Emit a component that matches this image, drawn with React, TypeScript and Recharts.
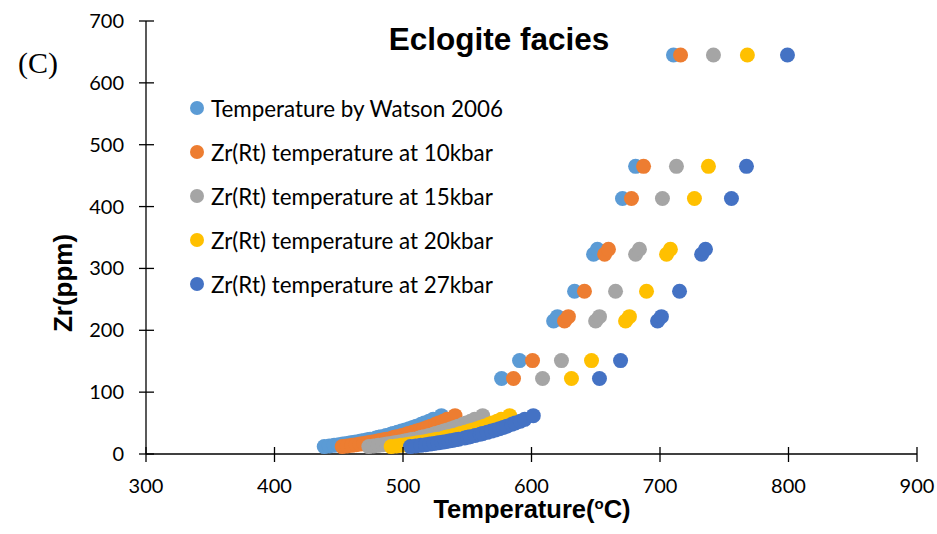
import React from 'react';
import { ScatterChart, Scatter, XAxis, YAxis, Legend } from 'recharts';

// Zr content (ppm) of each rutile grain
const zrPpm = [
  12, 13, 14, 15, 16, 17, 18, 19, 20, 21, 22, 23, 24, 26, 27, 28, 30, 32, 33, 35,
  37, 39, 41, 43, 45, 48, 50, 53, 56, 62, 122, 151, 215, 222, 263, 323, 331, 413, 465, 645,
];

// temperatures (°C) for each grain, one list per thermometer
const tWatson = [
  438.7, 442.6, 446.4, 449.9, 453.1, 456.2, 459.2, 462.1, 464.7, 467.3, 469.8, 472.2, 474.5, 478.9,
  481.0, 483.0, 486.8, 490.5, 492.2, 495.6, 498.8, 501.8, 504.8, 507.6, 510.3, 514.1, 516.6, 520.2,
  523.5, 529.9, 576.7, 590.7, 617.2, 620.2, 633.5, 648.3, 651.3, 670.8, 681.0, 710.5,
];
const t10kbar = [
  452.7, 456.5, 460.1, 463.5, 466.6, 469.6, 472.5, 475.3, 477.7, 480.3, 482.6, 484.9, 487.2, 491.4,
  493.4, 495.4, 499.0, 502.6, 504.2, 507.5, 510.6, 513.5, 516.4, 519.0, 521.6, 525.3, 527.7, 531.2,
  534.4, 540.5, 586.0, 600.8, 625.7, 628.7, 641.2, 656.9, 659.9, 677.8, 687.2, 716.0,
];
const t15kbar = [
  473.4, 477.2, 480.8, 484.3, 487.4, 490.4, 493.3, 496.2, 498.7, 501.2, 503.6, 505.9, 508.2, 512.5,
  514.5, 516.5, 520.1, 523.7, 525.4, 528.7, 531.8, 534.7, 537.6, 540.3, 543.0, 546.7, 549.1, 552.6,
  555.8, 562.0, 608.6, 623.3, 649.9, 652.9, 665.4, 681.0, 684.0, 701.9, 712.8, 741.6,
];
const t20kbar = [
  490.8, 494.8, 498.5, 502.1, 505.4, 508.5, 511.5, 514.5, 517.1, 519.8, 522.2, 524.6, 527.0, 531.5,
  533.6, 535.6, 539.4, 543.2, 544.9, 548.3, 551.6, 554.6, 557.6, 560.4, 563.2, 567.0, 569.5, 573.2,
  576.5, 583.0, 631.1, 646.7, 673.2, 676.2, 689.5, 705.1, 708.1, 726.8, 737.7, 768.0,
];
const t27kbar = [
  505.8, 509.9, 513.8, 517.6, 520.9, 524.2, 527.3, 530.4, 533.0, 535.8, 538.4, 540.9, 543.4, 548.0,
  550.2, 552.3, 556.2, 560.1, 561.9, 565.5, 568.8, 572.0, 575.1, 578.0, 580.8, 584.8, 587.4, 591.3,
  594.7, 601.4, 652.9, 669.3, 698.1, 701.1, 715.2, 732.4, 735.4, 755.6, 767.3, 799.2,
];

const seriesNames = [
  'Temperature by Watson 2006',
  'Zr(Rt) temperature at 10kbar',
  'Zr(Rt) temperature at 15kbar',
  'Zr(Rt) temperature at 20kbar',
  'Zr(Rt) temperature at 27kbar',
];
const seriesTemps = [tWatson, t10kbar, t15kbar, t20kbar, t27kbar];
const seriesColors = ['#5B9BD5', '#ED7D31', '#A5A5A5', '#FFC000', '#4472C4'];

const xTicks = [300, 400, 500, 600, 700, 800, 900];
const yTicks = [0, 100, 200, 300, 400, 500, 600, 700];

const TICK_FONT = 'Lato, "Open Sans", sans-serif';
const BOLD_FONT = '"Liberation Sans", Arial, sans-serif';

const XTick = ({ x, y, payload }: any) => (
  <g>
    <line x1={x} x2={x} y1={y - 7} y2={y + 8} stroke="#000" strokeWidth={1.3} />
    <text x={x} y={y + 39} textAnchor="middle" fontFamily={TICK_FONT} fontSize={20} fill="#000">
      {payload.value}
    </text>
  </g>
);

const YTick = ({ x, y, payload }: any) => (
  <g>
    <line x1={x - 7} x2={x + 8} y1={y} y2={y} stroke="#000" strokeWidth={1.3} />
    <text x={x - 22} y={y + 7} textAnchor="end" fontFamily={TICK_FONT} fontSize={20} fill="#000">
      {payload.value}
    </text>
  </g>
);

const renderLegend = (props: any) => (
  <div>
    {props.payload.map((entry: any, i: number) => (
      <div key={i} style={{ display: 'flex', alignItems: 'center', height: 44 }}>
        <svg width={16} height={16}>
          <circle cx={8} cy={8} r={7} fill={entry.color} />
        </svg>
        <span style={{ marginLeft: 6, fontFamily: TICK_FONT, fontSize: 22.4, color: '#000', whiteSpace: 'nowrap' }}>
          {entry.value}
        </span>
      </div>
    ))}
  </div>
);

const dot = (color: string) => (p: any) => <circle cx={p.cx} cy={p.cy} r={7.5} fill={color} />;

export default function App() {
  return (
    <div style={{ position: 'absolute', left: 0, top: 0, width: 937, height: 534, background: '#fff' }}>
      <ScatterChart width={937} height={534} margin={{ top: 21, right: 20, left: 0, bottom: 0 }}>
        <XAxis
          type="number"
          dataKey="t"
          domain={[300, 900]}
          ticks={xTicks}
          interval={0}
          height={80}
          tickSize={0}
          tickMargin={0}
          tickLine={false}
          tick={<XTick />}
          axisLine={{ stroke: '#000', strokeWidth: 1.3 }}
          label={(p: any) => (
            <text x={532} y={518} textAnchor="middle" fontFamily={BOLD_FONT} fontWeight="bold" fontSize={25.5} fill="#000">
              Temperature(
              <tspan fontSize={15} dy={-9}>o</tspan>
              <tspan dy={9}>C)</tspan>
            </text>
          )}
        />
        <YAxis
          type="number"
          dataKey="zr"
          domain={[0, 700]}
          ticks={yTicks}
          interval={0}
          width={146}
          tickSize={0}
          tickMargin={0}
          tickLine={false}
          tick={<YTick />}
          axisLine={{ stroke: '#000', strokeWidth: 1.3 }}
          label={(p: any) => (
            <text
              x={72}
              y={283}
              transform="rotate(-90 72 283)"
              textAnchor="middle"
              fontFamily={BOLD_FONT}
              fontWeight="bold"
              fontSize={26}
              fill="#000"
            >
              Zr(ppm)
            </text>
          )}
        />
        <Legend
          layout="vertical"
          align="center"
          verticalAlign="middle"
          wrapperStyle={{ left: 189, top: 86 }}
          content={renderLegend}
        />
        {seriesNames.map((name, s) => (
          <Scatter
            key={name}
            name={name}
            data={zrPpm.map((z, i) => ({ t: seriesTemps[s][i], zr: z }))}
            fill={seriesColors[s]}
            shape={dot(seriesColors[s])}
            isAnimationActive={false}
          />
        ))}
        <text x={499} y={50} textAnchor="middle" fontFamily={BOLD_FONT} fontWeight="bold" fontSize={31.5} fill="#000">
          Eclogite facies
        </text>
        <text x={18} y={73} fontFamily='"Liberation Serif", "Times New Roman", serif' fontSize={30} fill="#000">
          (C)
        </text>
      </ScatterChart>
    </div>
  );
}
